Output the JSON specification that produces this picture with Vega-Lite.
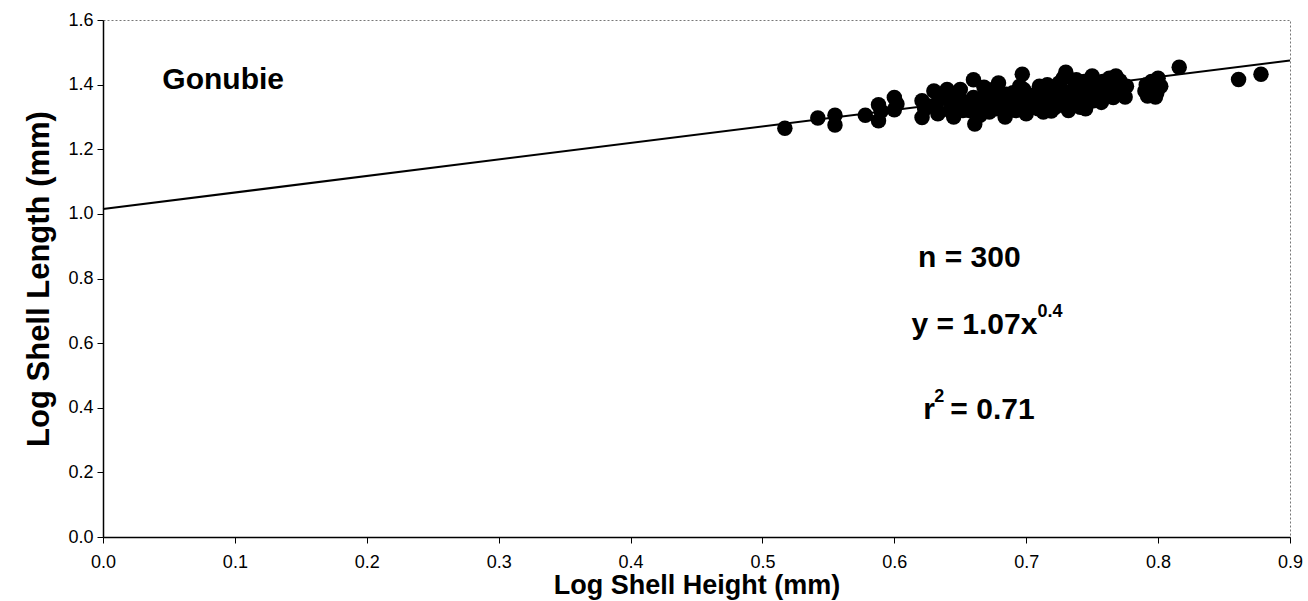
{
  "$schema": "https://vega.github.io/schema/vega-lite/v6.json",
  "width": 1187,
  "height": 517,
  "autosize": {"type": "none"},
  "padding": {"left": 103, "top": 20, "right": 18, "bottom": 64},
  "background": "white",
  "config": {
    "font": "Liberation Sans",
    "view": {"stroke": "#777777", "strokeDash": [2, 2], "strokeWidth": 1},
    "axis": {
      "grid": false,
      "domainColor": "black",
      "domainWidth": 1.5,
      "tickColor": "black",
      "tickSize": 6,
      "tickWidth": 1,
      "labelColor": "black",
      "labelFont": "Liberation Sans",
      "labelFlush": false,
      "titleColor": "black",
      "titleFont": "Liberation Sans",
      "titleFontWeight": "bold"
    }
  },
  "datasets": {
    "points": [
      {"h": 0.517, "l": 1.265}, {"h": 0.542, "l": 1.297}, {"h": 0.555, "l": 1.305}, {"h": 0.555, "l": 1.275},
      {"h": 0.578, "l": 1.305}, {"h": 0.588, "l": 1.338}, {"h": 0.588, "l": 1.288}, {"h": 0.590, "l": 1.318},
      {"h": 0.600, "l": 1.360}, {"h": 0.600, "l": 1.322}, {"h": 0.602, "l": 1.340}, {"h": 0.621, "l": 1.350},
      {"h": 0.621, "l": 1.298}, {"h": 0.623, "l": 1.325}, {"h": 0.630, "l": 1.380}, {"h": 0.632, "l": 1.340},
      {"h": 0.633, "l": 1.310}, {"h": 0.640, "l": 1.385}, {"h": 0.641, "l": 1.355}, {"h": 0.642, "l": 1.320},
      {"h": 0.645, "l": 1.300}, {"h": 0.650, "l": 1.385}, {"h": 0.651, "l": 1.350}, {"h": 0.652, "l": 1.320},
      {"h": 0.655, "l": 1.340}, {"h": 0.660, "l": 1.415}, {"h": 0.660, "l": 1.360}, {"h": 0.661, "l": 1.278},
      {"h": 0.662, "l": 1.330}, {"h": 0.665, "l": 1.305}, {"h": 0.670, "l": 1.370}, {"h": 0.671, "l": 1.340},
      {"h": 0.672, "l": 1.315}, {"h": 0.679, "l": 1.405}, {"h": 0.680, "l": 1.360}, {"h": 0.681, "l": 1.330},
      {"h": 0.684, "l": 1.300}, {"h": 0.688, "l": 1.345}, {"h": 0.690, "l": 1.375}, {"h": 0.692, "l": 1.320},
      {"h": 0.697, "l": 1.432}, {"h": 0.698, "l": 1.385}, {"h": 0.699, "l": 1.350}, {"h": 0.700, "l": 1.310},
      {"h": 0.703, "l": 1.330}, {"h": 0.707, "l": 1.370}, {"h": 0.710, "l": 1.395}, {"h": 0.711, "l": 1.345},
      {"h": 0.713, "l": 1.315}, {"h": 0.718, "l": 1.380}, {"h": 0.720, "l": 1.355}, {"h": 0.722, "l": 1.330},
      {"h": 0.725, "l": 1.405}, {"h": 0.728, "l": 1.420}, {"h": 0.730, "l": 1.438}, {"h": 0.731, "l": 1.370},
      {"h": 0.732, "l": 1.320}, {"h": 0.734, "l": 1.345}, {"h": 0.737, "l": 1.395}, {"h": 0.740, "l": 1.360},
      {"h": 0.741, "l": 1.330}, {"h": 0.744, "l": 1.410}, {"h": 0.747, "l": 1.380}, {"h": 0.750, "l": 1.427},
      {"h": 0.751, "l": 1.350}, {"h": 0.753, "l": 1.395}, {"h": 0.756, "l": 1.365}, {"h": 0.758, "l": 1.410},
      {"h": 0.760, "l": 1.380}, {"h": 0.763, "l": 1.420}, {"h": 0.765, "l": 1.395}, {"h": 0.766, "l": 1.360},
      {"h": 0.768, "l": 1.427}, {"h": 0.770, "l": 1.400}, {"h": 0.772, "l": 1.375}, {"h": 0.775, "l": 1.362},
      {"h": 0.776, "l": 1.395}, {"h": 0.790, "l": 1.380}, {"h": 0.791, "l": 1.400}, {"h": 0.792, "l": 1.365},
      {"h": 0.795, "l": 1.410}, {"h": 0.797, "l": 1.385}, {"h": 0.798, "l": 1.362}, {"h": 0.800, "l": 1.420},
      {"h": 0.802, "l": 1.395}, {"h": 0.816, "l": 1.454}, {"h": 0.861, "l": 1.416}, {"h": 0.878, "l": 1.432},
      {"h": 0.625, "l": 1.335}, {"h": 0.635, "l": 1.360}, {"h": 0.645, "l": 1.340}, {"h": 0.648, "l": 1.365},
      {"h": 0.657, "l": 1.320}, {"h": 0.667, "l": 1.355}, {"h": 0.675, "l": 1.385}, {"h": 0.677, "l": 1.325},
      {"h": 0.685, "l": 1.370}, {"h": 0.694, "l": 1.340}, {"h": 0.695, "l": 1.395}, {"h": 0.705, "l": 1.350},
      {"h": 0.709, "l": 1.325}, {"h": 0.715, "l": 1.365}, {"h": 0.716, "l": 1.400}, {"h": 0.724, "l": 1.345},
      {"h": 0.727, "l": 1.385}, {"h": 0.735, "l": 1.365}, {"h": 0.738, "l": 1.415}, {"h": 0.743, "l": 1.340},
      {"h": 0.746, "l": 1.395}, {"h": 0.749, "l": 1.365}, {"h": 0.755, "l": 1.385}, {"h": 0.757, "l": 1.345},
      {"h": 0.762, "l": 1.400}, {"h": 0.764, "l": 1.375}, {"h": 0.767, "l": 1.385}, {"h": 0.771, "l": 1.412},
      {"h": 0.774, "l": 1.388}, {"h": 0.793, "l": 1.390}, {"h": 0.799, "l": 1.375}, {"h": 0.796, "l": 1.400},
      {"h": 0.668, "l": 1.392}, {"h": 0.686, "l": 1.318}, {"h": 0.719, "l": 1.318}, {"h": 0.745, "l": 1.325}
    ],
    "fit": [{"h": 0.0, "l": 1.015}, {"h": 0.9, "l": 1.475}],
    "labels": [
      {"h": 0.045, "l": 1.415, "t": "Gonubie"},
      {"h": 0.618, "l": 0.864, "t": "n = 300"},
      {"h": 0.613, "l": 0.656, "t": "y = 1.07x"},
      {"h": 0.622, "l": 0.393, "t": "r"},
      {"h": 0.622, "l": 0.393, "t": " = 0.71"}
    ],
    "sups": [
      {"h": 0.613, "l": 0.656, "t": "0.4", "k": "eq"},
      {"h": 0.622, "l": 0.393, "t": "2", "k": "r2"}
    ]
  },
  "layer": [
    {
      "data": {"name": "fit"},
      "mark": {"type": "line", "color": "black", "strokeWidth": 2},
      "encoding": {
        "x": {"field": "h", "type": "quantitative", "scale": {"domain": [0, 0.9]},
          "axis": {"values": [0, 0.1, 0.2, 0.3, 0.4, 0.5, 0.6, 0.7, 0.8, 0.9], "format": ".1f", "title": "Log Shell Height (mm)", "titleFontSize": 27, "labelFontSize": 18, "labelPadding": 10, "titlePadding": 1}},
        "y": {"field": "l", "type": "quantitative", "scale": {"domain": [0, 1.6]},
          "axis": {"values": [0, 0.2, 0.4, 0.6, 0.8, 1.0, 1.2, 1.4, 1.6], "format": ".1f", "title": "Log Shell Length (mm)", "titleFontSize": 31, "labelFontSize": 18, "labelPadding": 4, "titlePadding": 12}}
      }
    },
    {
      "data": {"name": "points"},
      "mark": {"type": "circle", "color": "black", "opacity": 1, "size": 240},
      "encoding": {
        "x": {"field": "h", "type": "quantitative"},
        "y": {"field": "l", "type": "quantitative"}
      }
    },
    {
      "data": {"name": "labels"},
      "transform": [{"filter": "datum.t != ' = 0.71'"}],
      "mark": {"type": "text", "align": "left", "baseline": "middle", "fontSize": 30, "fontWeight": "bold", "color": "black"},
      "encoding": {
        "x": {"field": "h", "type": "quantitative"},
        "y": {"field": "l", "type": "quantitative"},
        "text": {"field": "t"}
      }
    },
    {
      "data": {"name": "labels"},
      "transform": [{"filter": "datum.t == ' = 0.71'"}],
      "mark": {"type": "text", "align": "left", "baseline": "middle", "fontSize": 30, "fontWeight": "bold", "color": "black", "dx": 27},
      "encoding": {
        "x": {"field": "h", "type": "quantitative"},
        "y": {"field": "l", "type": "quantitative"},
        "text": {"field": "t"}
      }
    },
    {
      "data": {"name": "sups"},
      "transform": [{"filter": "datum.k == 'eq'"}],
      "mark": {"type": "text", "align": "left", "baseline": "middle", "fontSize": 18, "fontWeight": "bold", "color": "black", "dx": 126, "dy": -13},
      "encoding": {
        "x": {"field": "h", "type": "quantitative"},
        "y": {"field": "l", "type": "quantitative"},
        "text": {"field": "t"}
      }
    },
    {
      "data": {"name": "sups"},
      "transform": [{"filter": "datum.k == 'r2'"}],
      "mark": {"type": "text", "align": "left", "baseline": "middle", "fontSize": 18, "fontWeight": "bold", "color": "black", "dx": 11, "dy": -13},
      "encoding": {
        "x": {"field": "h", "type": "quantitative"},
        "y": {"field": "l", "type": "quantitative"},
        "text": {"field": "t"}
      }
    }
  ]
}
